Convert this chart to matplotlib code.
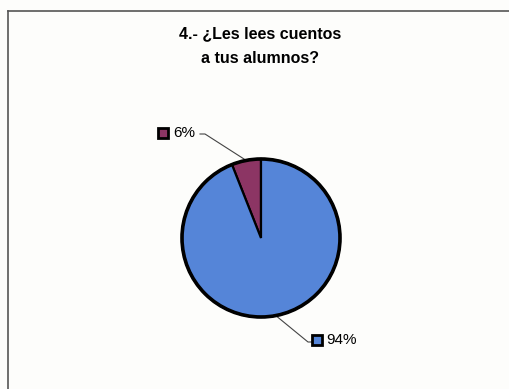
import numpy as np
import matplotlib
matplotlib.use("Agg")
import matplotlib.pyplot as plt
from matplotlib.patches import Rectangle

title_lines = ["4.- ¿Les lees cuentos", "a tus alumnos?"]
values = [6, 94]
labels = ["6%", "94%"]
colors = ["#8c3564", "#5585d8"]

W, H = 510, 389
fig = plt.figure(figsize=(W / 100, H / 100), dpi=100)
fig.patch.set_facecolor("#fdfdfb")
ax = fig.add_axes([0, 0, 1, 1])
ax.set_facecolor("#fdfdfb")

cx, cy, r = 261, H - 238, 79
wedges, _ = ax.pie(values, colors=colors, startangle=90, counterclock=True,
                   center=(cx, cy), radius=r, frame=True,
                   wedgeprops=dict(edgecolor="black", linewidth=1.6))
circ = plt.Circle((cx, cy), r, fill=False, edgecolor="black", linewidth=2.6, zorder=5)
ax.add_patch(circ)

ax.set_xlim(0, W)
ax.set_ylim(0, H)
ax.set_aspect("equal")
ax.axis("off")

# chart frame (left and top edges visible)
ax.plot([8, 8], [H - 10.5, 0], color="#555555", lw=1.2)
ax.plot([8, W + 5], [H - 10.5, H - 10.5], color="#555555", lw=1.2)

fp = dict(family=["Liberation Sans", "DejaVu Sans"])
ax.text(260, H - 34, title_lines[0], ha="center", va="center", fontsize=11.5,
        fontweight="bold", **fp)
ax.text(260, H - 58, title_lines[1], ha="center", va="center", fontsize=11.5,
        fontweight="bold", **fp)

label_pos = [(173, H - 133), (326, H - 340)]
key_pos = [(158, H - 138), (312, H - 345)]
elbow = [(205, H - 134), (308, H - 342)]
line_end = [(200, H - 134), (312, H - 342)]

for w, lab, tp, kp, el, le, col in zip(wedges, labels, label_pos, key_pos, elbow, line_end, colors):
    ang = np.deg2rad((w.theta1 + w.theta2) / 2)
    ex, ey = cx + r * np.cos(ang), cy + r * np.sin(ang)
    ax.plot([ex, el[0], le[0]], [ey, el[1], le[1]], color="#444444", lw=0.8, zorder=1)
    ax.add_patch(Rectangle(kp, 10, 10, facecolor=col, edgecolor="black", lw=2.0))
    ax.text(tp[0], tp[1], lab, ha="left", va="center", fontsize=11, **fp)

fig.savefig("out.png", dpi=100, facecolor=fig.get_facecolor())
